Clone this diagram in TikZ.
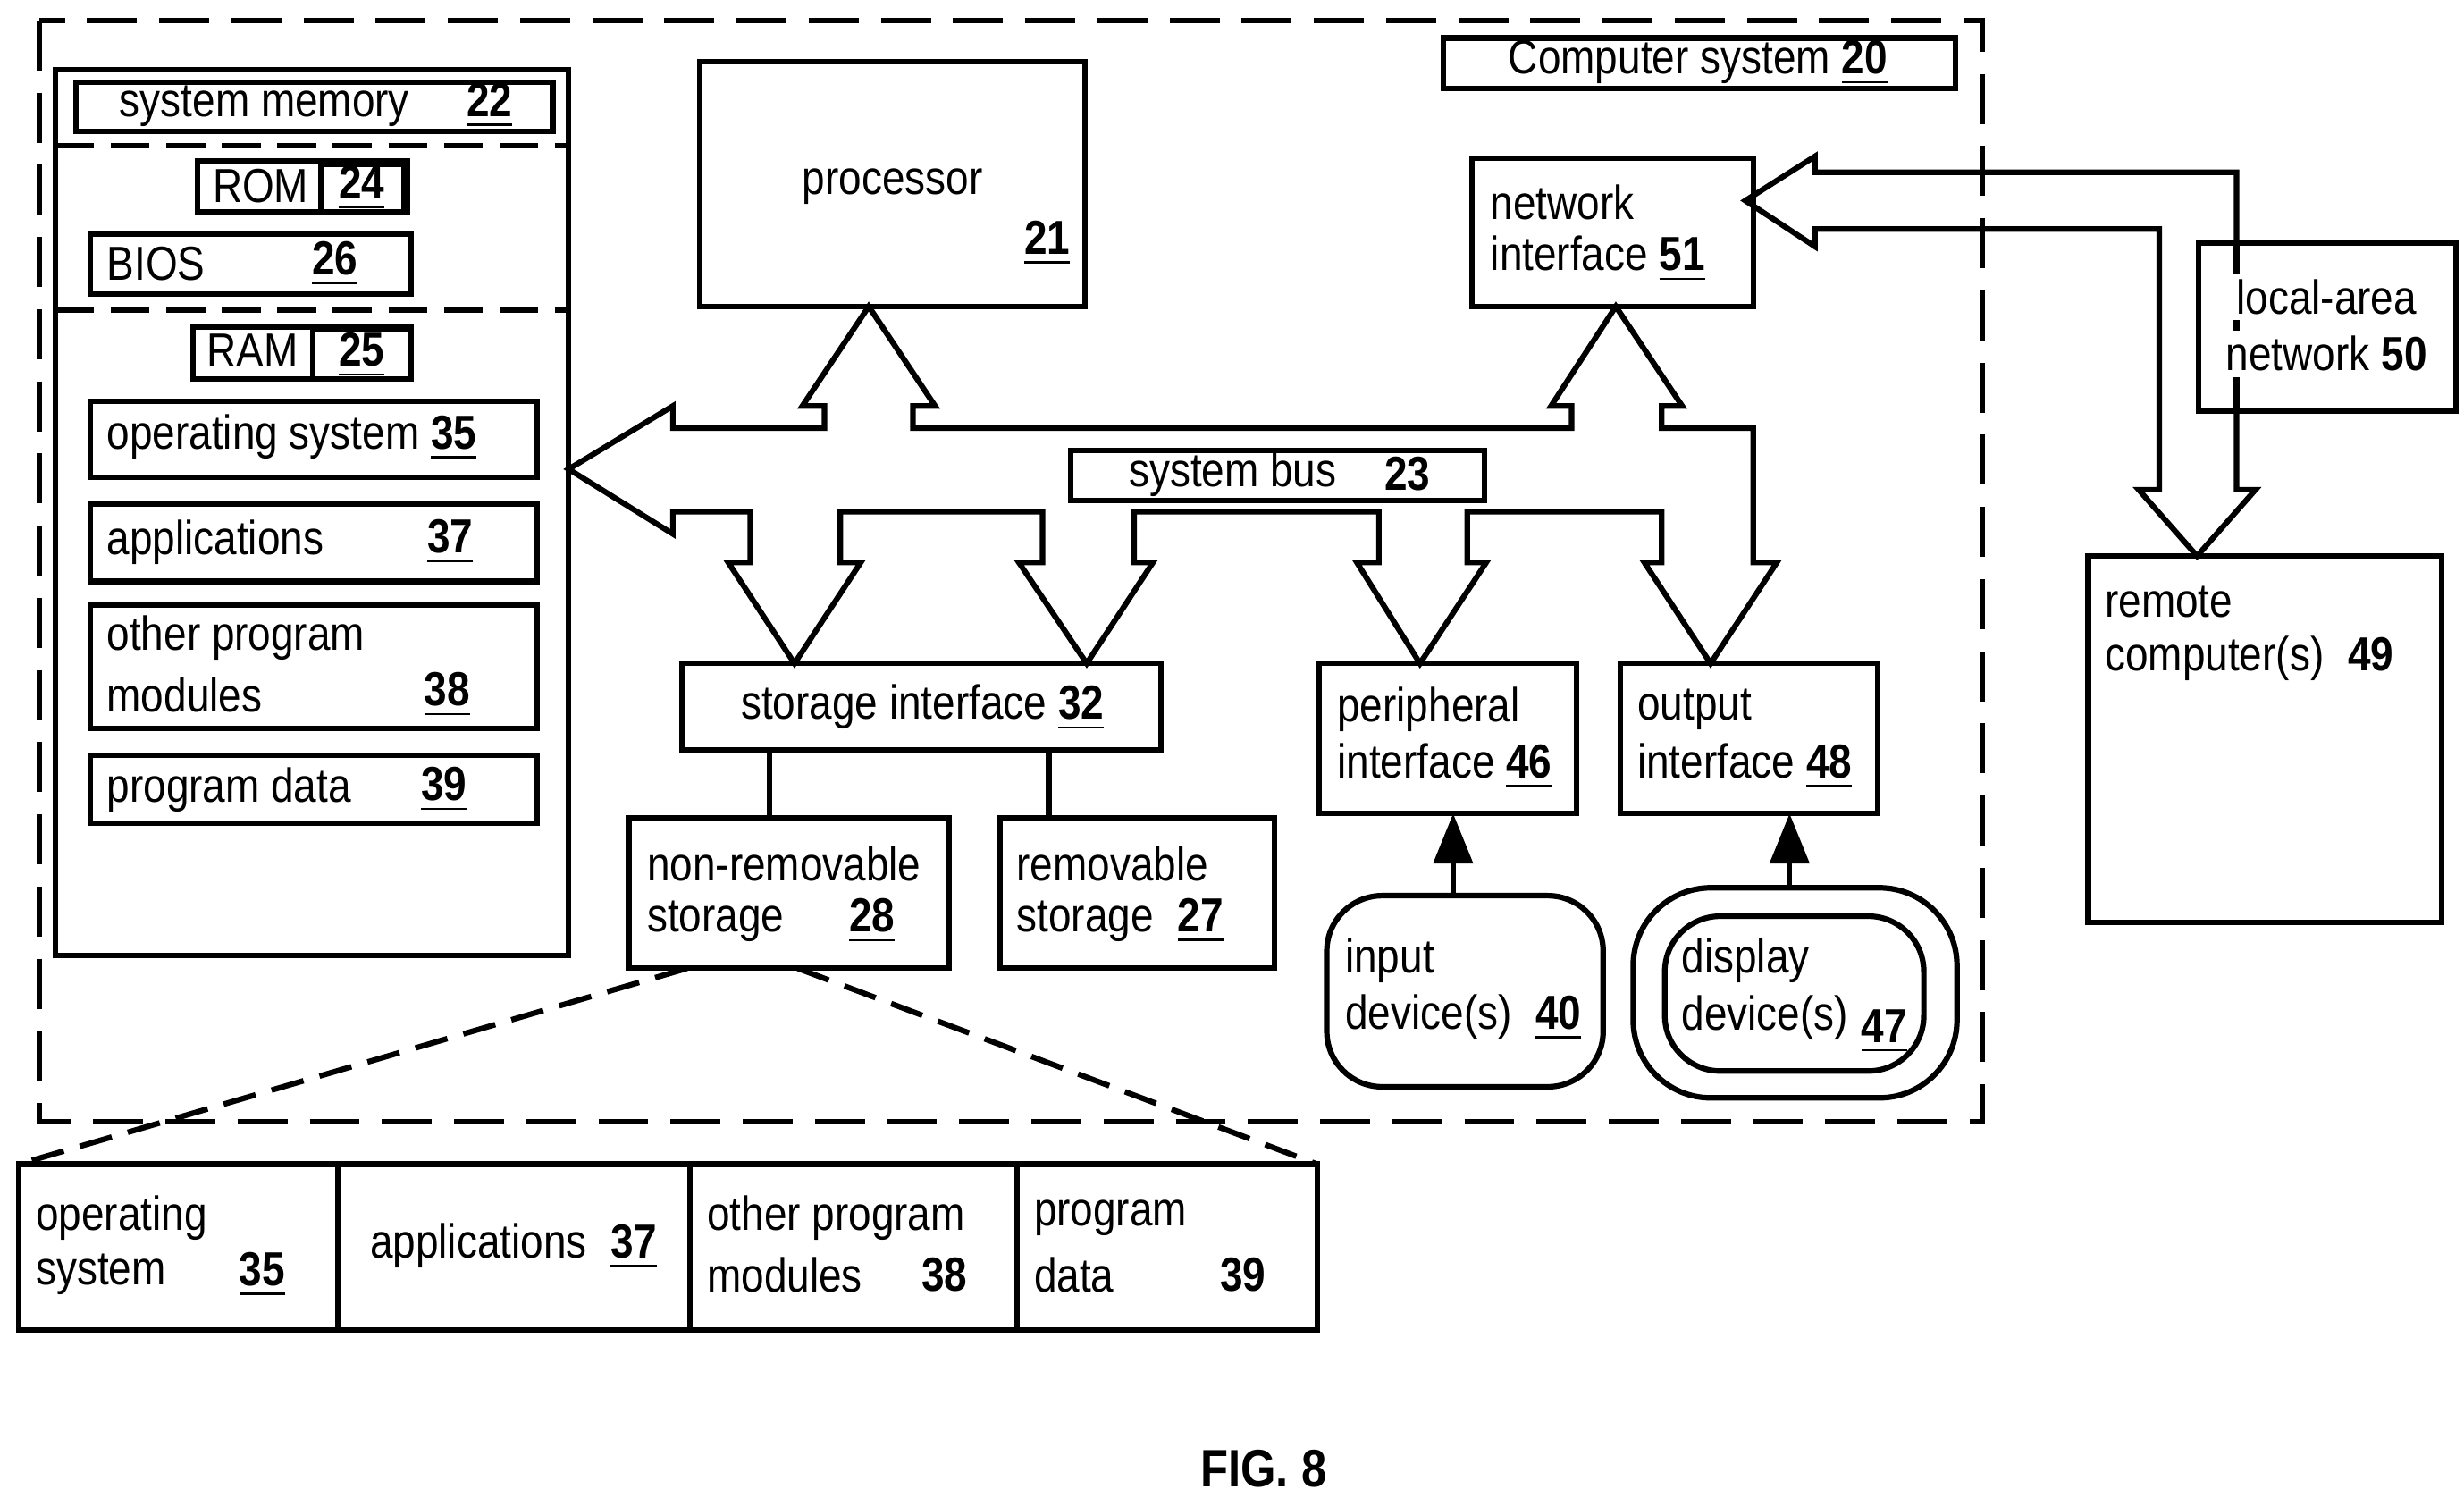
\documentclass[tikz,border=0pt]{standalone}
\usepackage{fontspec}
\setmainfont[FakeStretch=0.86]{Liberation Sans}
\usetikzlibrary{arrows.meta}
\newcommand\rn[1]{\underline{\textbf{#1}}}
\newcommand\bx[6][]{\node (#2) [box,#1,minimum width={(#5-#3)*0.1mm},minimum height={(#6-#4)*0.1mm}] at ({(#3+#5)/2},{(#4+#6)/2}) {};}
\tikzset{
  box/.style={draw,line width=1pt,inner sep=0pt},
  lbl/.style={font=\fontsize{8.6}{10}\selectfont,inner sep=0pt,anchor=west},
  ctr/.style={lbl,anchor=center},
  bus/.style={draw,line width=1pt,line join=miter},
}
\begin{document}
\begin{tikzpicture}[x=0.1mm,y=-0.1mm]
\useasboundingbox (0,0) rectangle (1560,948);
% outer system
\draw[line width=1pt,dash pattern=on 9pt off 4pt] (25,13) rectangle (1255,710);
\bx{cs}{914}{24}{1238}{56}
\node (csl) [ctr] at (1075,40) {Computer system \rn{20}};
% system memory
\bx{mem}{35}{44}{360}{605}
\bx{memt}{48}{52}{350}{83}
\node (meml) [lbl] at (75,67) {system memory};
\node (memn) [ctr] at (310,67) {\rn{22}};
\draw[line width=1pt,dash pattern=on 7pt off 3pt] (35,92) -- (360,92) (35,196) -- (360,196);
\bx{rom}{125}{102}{258}{134}
\bx{romn}{203}{104}{256}{134}
\node (roml) [ctr] at (165,118) {ROM};
\node (romt) [ctr] at (229,119) {\rn{24}};
\bx{bios}{57}{148}{260}{186}
\node (biosl) [lbl] at (67,167) {BIOS};
\node (biost) [ctr] at (212,167) {\rn{26}};
\bx{ram}{122}{207}{260}{240}
\bx{ramn}{198}{209}{260}{240}
\node (raml) [ctr] at (160,222) {RAM};
\node (ramt) [ctr] at (229,225) {\rn{25}};
\bx{os}{57}{254}{340}{302}
\node (osl) [lbl] at (67,277) {operating system \rn{35}};
\bx{app}{57}{319}{340}{368}
\node (appl) [lbl] at (67,343) {applications};
\node (appt) [ctr] at (285,343) {\rn{37}};
\bx{opm}{57}{383}{340}{461}
\node (opml) [lbl] at (67,404) {other program};
\node (opmm) [lbl] at (67,440) {modules};
\node (opmt) [ctr] at (283,440) {\rn{38}};
\bx{pd}{57}{478}{340}{521}
\node (pdl) [lbl] at (67,500) {program data};
\node (pdt) [ctr] at (281,500) {\rn{39}};
% processor and network
\bx{cpu}{443}{39}{687}{194}
\node (cpul) [ctr] at (565,118) {processor};
\node (cput) [ctr] at (663,154) {\rn{21}};
\bx{ni}{932}{100}{1110}{194}
\node (nil) [lbl] at (943,128) {network};
\node (nim) [lbl] at (943,164) {interface \rn{51}};
% bus
\draw[bus] (360,297) -- (426,257) -- (426,271) -- (522,271) -- (522,257) -- (508,257)
  -- (550,194) -- (592,257) -- (578,257) -- (578,271) -- (995,271) -- (995,257) -- (982,257)
  -- (1023,194) -- (1065,257) -- (1052,257) -- (1052,271) -- (1110,271) -- (1110,356)
  -- (1125,356) -- (1083,420) -- (1041,356) -- (1052,356) -- (1052,324) -- (929,324)
  -- (929,356) -- (941,356) -- (899,420) -- (859,356) -- (873,356) -- (873,324) -- (718,324)
  -- (718,356) -- (730,356) -- (688,420) -- (645,356) -- (660,356) -- (660,324) -- (532,324)
  -- (532,356) -- (545,356) -- (503,420) -- (461,356) -- (475,356) -- (475,324) -- (426,324)
  -- (426,338) -- cycle;
\bx{sb}{678}{285}{940}{317}
\node (sbl) [lbl] at (714,300) {system bus};
\node (sbt) [ctr] at (891,300) {\textbf{23}};
% LAN side
\draw[bus] (1416,154) -- (1416,109) -- (1149,109) -- (1149,99) -- (1105,127) -- (1149,156)
  -- (1149,145) -- (1367,145) -- (1367,310) -- (1354,310) -- (1391,352) -- (1428,310)
  -- (1416,310) -- (1416,260);
\bx{lan}{1392}{154}{1555}{260}
\draw[line width=1pt] (1416,154) -- (1416,260);
\node (lanl) [ctr,fill=white,inner sep=1pt] at (1473,188) {local-area};
\node (lanm) [ctr,fill=white,inner sep=1pt] at (1473,224) {network \textbf{50}};
\bx{rc}{1322}{352}{1546}{584}
\node (rcl) [lbl] at (1332,381) {remote};
\node (rcm) [lbl] at (1332,417) {computer(s)\enspace\textbf{49}};
% interfaces
\bx{si}{432}{420}{735}{475}
\node (sil) [ctr] at (584,448) {storage interface \rn{32}};
\bx{pi}{835}{420}{998}{515}
\node (pil) [lbl] at (846,449) {peripheral};
\node (pim) [lbl] at (846,485) {interface \rn{46}};
\bx{oi}{1026}{420}{1189}{515}
\node (oil) [lbl] at (1036,449) {output};
\node (oim) [lbl] at (1036,485) {interface \rn{48}};
% storage and devices
\bx{nrs}{398}{518}{601}{613}
\node (nrsl) [lbl] at (409,547) {non-removable};
\node (nrsm) [lbl] at (409,583) {storage};
\node (nrst) [ctr] at (552,583) {\rn{28}};
\bx{rs}{633}{518}{807}{613}
\node (rsl) [lbl] at (643,547) {removable};
\node (rsm) [lbl] at (643,583) {storage\enspace\rn{27}};
\draw[line width=1pt] (487,475) -- (487,518) (664,475) -- (664,518);
\bx[rounded corners=10pt]{inp}{840}{567}{1015}{688}
\node (inpl) [lbl] at (851,608) {input};
\node (inpm) [lbl] at (851,644) {device(s)\enspace\rn{40}};
\bx[rounded corners=14pt]{dspo}{1034}{562}{1239}{695}
\bx[rounded corners=10pt]{dsp}{1054}{580}{1218}{678}
\node (dspl) [lbl] at (1064,608) {display};
\node (dspm) [lbl] at (1064,644) {device(s)};
\node (dspt) [ctr] at (1193,653) {\rn{47}};
\draw[line width=1pt,-{Triangle[length=9pt,width=7pt]}] (inp.north -| 920,0) -- (920,515);
\draw[line width=1pt,-{Triangle[length=9pt,width=7pt]}] (dspo.north -| 1133,0) -- (1133,515);
% expanded storage
\draw[line width=1pt,dash pattern=on 6pt off 3pt] (435,613) -- (12,737) (505,613) -- (834,737);
\bx{tab}{12}{737}{834}{842}
\draw[line width=1pt] (214,737) -- (214,842) (437,737) -- (437,842) (644,737) -- (644,842);
\node (t1) [lbl] at (22,771) {operating};
\node (t1m) [lbl] at (22,807) {system};
\node (t1n) [ctr] at (166,807) {\rn{35}};
\node (t2) [ctr] at (325,789) {applications\enspace\rn{37}};
\node (t3) [lbl] at (447,771) {other program};
\node (t3m) [lbl] at (447,807) {modules};
\node (t3n) [ctr] at (598,807) {\textbf{38}};
\node (t4) [lbl] at (654,771) {program};
\node (t4m) [lbl] at (654,807) {data};
\node (t4n) [ctr] at (787,807) {\textbf{39}};
\node (fig) [ctr,font=\fontsize{9.5}{11}\selectfont\bfseries] at (800,930) {FIG. 8};
\end{tikzpicture}
\end{document}
